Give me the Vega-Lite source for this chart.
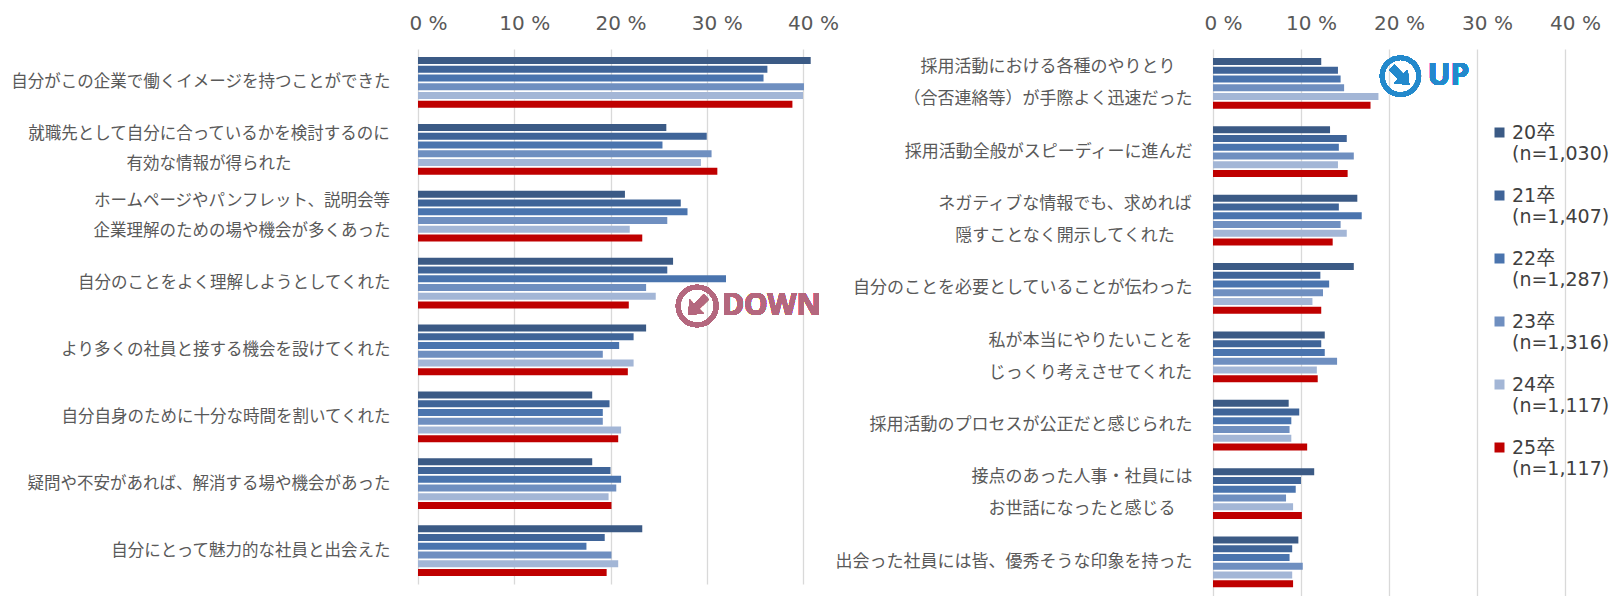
{
  "$schema": "https://vega.github.io/schema/vega-lite/v6.json",
  "padding": {"left": 10, "top": 13, "right": 0, "bottom": 0},
  "autosize": {"type": "pad"},
  "bounds": "flush",
  "config": {
    "view": {"stroke": null},
    "font": "Noto Sans CJK JP",
    "axis": {"domain": false, "ticks": false, "title": null, "labelColor": "#595959", "gridColor": "#d9d9d9", "gridWidth": 1.3}
  },
  "spacing": 410,
  "resolve": {"legend": {"color": "independent"}},
  "datasets": {
    "left": [
      {"q": "自分がこの企業で働くイメージを持つことができた", "s": "20卒 (n=1,030)", "v": 40.8},
      {"q": "自分がこの企業で働くイメージを持つことができた", "s": "21卒 (n=1,407)", "v": 36.3},
      {"q": "自分がこの企業で働くイメージを持つことができた", "s": "22卒 (n=1,287)", "v": 35.9},
      {"q": "自分がこの企業で働くイメージを持つことができた", "s": "23卒 (n=1,316)", "v": 40.1},
      {"q": "自分がこの企業で働くイメージを持つことができた", "s": "24卒 (n=1,117)", "v": 40.0},
      {"q": "自分がこの企業で働くイメージを持つことができた", "s": "25卒 (n=1,117)", "v": 38.9},
      {"q": "就職先として自分に合っているかを検討するのに\n有効な情報が得られた", "s": "20卒 (n=1,030)", "v": 25.8},
      {"q": "就職先として自分に合っているかを検討するのに\n有効な情報が得られた", "s": "21卒 (n=1,407)", "v": 30.0},
      {"q": "就職先として自分に合っているかを検討するのに\n有効な情報が得られた", "s": "22卒 (n=1,287)", "v": 25.4},
      {"q": "就職先として自分に合っているかを検討するのに\n有効な情報が得られた", "s": "23卒 (n=1,316)", "v": 30.5},
      {"q": "就職先として自分に合っているかを検討するのに\n有効な情報が得られた", "s": "24卒 (n=1,117)", "v": 29.4},
      {"q": "就職先として自分に合っているかを検討するのに\n有効な情報が得られた", "s": "25卒 (n=1,117)", "v": 31.1},
      {"q": "ホームページやパンフレット、説明会等\n企業理解のための場や機会が多くあった", "s": "20卒 (n=1,030)", "v": 21.5},
      {"q": "ホームページやパンフレット、説明会等\n企業理解のための場や機会が多くあった", "s": "21卒 (n=1,407)", "v": 27.3},
      {"q": "ホームページやパンフレット、説明会等\n企業理解のための場や機会が多くあった", "s": "22卒 (n=1,287)", "v": 28.0},
      {"q": "ホームページやパンフレット、説明会等\n企業理解のための場や機会が多くあった", "s": "23卒 (n=1,316)", "v": 25.9},
      {"q": "ホームページやパンフレット、説明会等\n企業理解のための場や機会が多くあった", "s": "24卒 (n=1,117)", "v": 22.0},
      {"q": "ホームページやパンフレット、説明会等\n企業理解のための場や機会が多くあった", "s": "25卒 (n=1,117)", "v": 23.3},
      {"q": "自分のことをよく理解しようとしてくれた", "s": "20卒 (n=1,030)", "v": 26.5},
      {"q": "自分のことをよく理解しようとしてくれた", "s": "21卒 (n=1,407)", "v": 25.9},
      {"q": "自分のことをよく理解しようとしてくれた", "s": "22卒 (n=1,287)", "v": 32.0},
      {"q": "自分のことをよく理解しようとしてくれた", "s": "23卒 (n=1,316)", "v": 23.7},
      {"q": "自分のことをよく理解しようとしてくれた", "s": "24卒 (n=1,117)", "v": 24.7},
      {"q": "自分のことをよく理解しようとしてくれた", "s": "25卒 (n=1,117)", "v": 21.9},
      {"q": "より多くの社員と接する機会を設けてくれた", "s": "20卒 (n=1,030)", "v": 23.7},
      {"q": "より多くの社員と接する機会を設けてくれた", "s": "21卒 (n=1,407)", "v": 22.4},
      {"q": "より多くの社員と接する機会を設けてくれた", "s": "22卒 (n=1,287)", "v": 20.9},
      {"q": "より多くの社員と接する機会を設けてくれた", "s": "23卒 (n=1,316)", "v": 19.2},
      {"q": "より多くの社員と接する機会を設けてくれた", "s": "24卒 (n=1,117)", "v": 22.4},
      {"q": "より多くの社員と接する機会を設けてくれた", "s": "25卒 (n=1,117)", "v": 21.8},
      {"q": "自分自身のために十分な時間を割いてくれた", "s": "20卒 (n=1,030)", "v": 18.1},
      {"q": "自分自身のために十分な時間を割いてくれた", "s": "21卒 (n=1,407)", "v": 19.9},
      {"q": "自分自身のために十分な時間を割いてくれた", "s": "22卒 (n=1,287)", "v": 19.2},
      {"q": "自分自身のために十分な時間を割いてくれた", "s": "23卒 (n=1,316)", "v": 19.2},
      {"q": "自分自身のために十分な時間を割いてくれた", "s": "24卒 (n=1,117)", "v": 21.1},
      {"q": "自分自身のために十分な時間を割いてくれた", "s": "25卒 (n=1,117)", "v": 20.8},
      {"q": "疑問や不安があれば、解消する場や機会があった", "s": "20卒 (n=1,030)", "v": 18.1},
      {"q": "疑問や不安があれば、解消する場や機会があった", "s": "21卒 (n=1,407)", "v": 20.0},
      {"q": "疑問や不安があれば、解消する場や機会があった", "s": "22卒 (n=1,287)", "v": 21.1},
      {"q": "疑問や不安があれば、解消する場や機会があった", "s": "23卒 (n=1,316)", "v": 20.6},
      {"q": "疑問や不安があれば、解消する場や機会があった", "s": "24卒 (n=1,117)", "v": 19.8},
      {"q": "疑問や不安があれば、解消する場や機会があった", "s": "25卒 (n=1,117)", "v": 20.1},
      {"q": "自分にとって魅力的な社員と出会えた", "s": "20卒 (n=1,030)", "v": 23.3},
      {"q": "自分にとって魅力的な社員と出会えた", "s": "21卒 (n=1,407)", "v": 19.4},
      {"q": "自分にとって魅力的な社員と出会えた", "s": "22卒 (n=1,287)", "v": 17.5},
      {"q": "自分にとって魅力的な社員と出会えた", "s": "23卒 (n=1,316)", "v": 20.1},
      {"q": "自分にとって魅力的な社員と出会えた", "s": "24卒 (n=1,117)", "v": 20.8},
      {"q": "自分にとって魅力的な社員と出会えた", "s": "25卒 (n=1,117)", "v": 19.6}
    ],
    "right": [
      {"q": "採用活動における各種のやりとり\n（合否連絡等）が手際よく迅速だった", "s": "20卒 (n=1,030)", "v": 12.3},
      {"q": "採用活動における各種のやりとり\n（合否連絡等）が手際よく迅速だった", "s": "21卒 (n=1,407)", "v": 14.2},
      {"q": "採用活動における各種のやりとり\n（合否連絡等）が手際よく迅速だった", "s": "22卒 (n=1,287)", "v": 14.5},
      {"q": "採用活動における各種のやりとり\n（合否連絡等）が手際よく迅速だった", "s": "23卒 (n=1,316)", "v": 14.9},
      {"q": "採用活動における各種のやりとり\n（合否連絡等）が手際よく迅速だった", "s": "24卒 (n=1,117)", "v": 18.8},
      {"q": "採用活動における各種のやりとり\n（合否連絡等）が手際よく迅速だった", "s": "25卒 (n=1,117)", "v": 17.9},
      {"q": "採用活動全般がスピーディーに進んだ", "s": "20卒 (n=1,030)", "v": 13.3},
      {"q": "採用活動全般がスピーディーに進んだ", "s": "21卒 (n=1,407)", "v": 15.2},
      {"q": "採用活動全般がスピーディーに進んだ", "s": "22卒 (n=1,287)", "v": 14.3},
      {"q": "採用活動全般がスピーディーに進んだ", "s": "23卒 (n=1,316)", "v": 16.0},
      {"q": "採用活動全般がスピーディーに進んだ", "s": "24卒 (n=1,117)", "v": 14.2},
      {"q": "採用活動全般がスピーディーに進んだ", "s": "25卒 (n=1,117)", "v": 15.3},
      {"q": "ネガティブな情報でも、求めれば\n隠すことなく開示してくれた", "s": "20卒 (n=1,030)", "v": 16.4},
      {"q": "ネガティブな情報でも、求めれば\n隠すことなく開示してくれた", "s": "21卒 (n=1,407)", "v": 14.3},
      {"q": "ネガティブな情報でも、求めれば\n隠すことなく開示してくれた", "s": "22卒 (n=1,287)", "v": 16.9},
      {"q": "ネガティブな情報でも、求めれば\n隠すことなく開示してくれた", "s": "23卒 (n=1,316)", "v": 14.5},
      {"q": "ネガティブな情報でも、求めれば\n隠すことなく開示してくれた", "s": "24卒 (n=1,117)", "v": 15.2},
      {"q": "ネガティブな情報でも、求めれば\n隠すことなく開示してくれた", "s": "25卒 (n=1,117)", "v": 13.6},
      {"q": "自分のことを必要としていることが伝わった", "s": "20卒 (n=1,030)", "v": 16.0},
      {"q": "自分のことを必要としていることが伝わった", "s": "21卒 (n=1,407)", "v": 12.2},
      {"q": "自分のことを必要としていることが伝わった", "s": "22卒 (n=1,287)", "v": 13.2},
      {"q": "自分のことを必要としていることが伝わった", "s": "23卒 (n=1,316)", "v": 12.5},
      {"q": "自分のことを必要としていることが伝わった", "s": "24卒 (n=1,117)", "v": 11.3},
      {"q": "自分のことを必要としていることが伝わった", "s": "25卒 (n=1,117)", "v": 12.3},
      {"q": "私が本当にやりたいことを\nじっくり考えさせてくれた", "s": "20卒 (n=1,030)", "v": 12.7},
      {"q": "私が本当にやりたいことを\nじっくり考えさせてくれた", "s": "21卒 (n=1,407)", "v": 12.3},
      {"q": "私が本当にやりたいことを\nじっくり考えさせてくれた", "s": "22卒 (n=1,287)", "v": 12.7},
      {"q": "私が本当にやりたいことを\nじっくり考えさせてくれた", "s": "23卒 (n=1,316)", "v": 14.1},
      {"q": "私が本当にやりたいことを\nじっくり考えさせてくれた", "s": "24卒 (n=1,117)", "v": 11.8},
      {"q": "私が本当にやりたいことを\nじっくり考えさせてくれた", "s": "25卒 (n=1,117)", "v": 11.9},
      {"q": "採用活動のプロセスが公正だと感じられた", "s": "20卒 (n=1,030)", "v": 8.6},
      {"q": "採用活動のプロセスが公正だと感じられた", "s": "21卒 (n=1,407)", "v": 9.8},
      {"q": "採用活動のプロセスが公正だと感じられた", "s": "22卒 (n=1,287)", "v": 8.9},
      {"q": "採用活動のプロセスが公正だと感じられた", "s": "23卒 (n=1,316)", "v": 8.7},
      {"q": "採用活動のプロセスが公正だと感じられた", "s": "24卒 (n=1,117)", "v": 8.9},
      {"q": "採用活動のプロセスが公正だと感じられた", "s": "25卒 (n=1,117)", "v": 10.7},
      {"q": "接点のあった人事・社員には\nお世話になったと感じる", "s": "20卒 (n=1,030)", "v": 11.5},
      {"q": "接点のあった人事・社員には\nお世話になったと感じる", "s": "21卒 (n=1,407)", "v": 10.0},
      {"q": "接点のあった人事・社員には\nお世話になったと感じる", "s": "22卒 (n=1,287)", "v": 9.4},
      {"q": "接点のあった人事・社員には\nお世話になったと感じる", "s": "23卒 (n=1,316)", "v": 8.3},
      {"q": "接点のあった人事・社員には\nお世話になったと感じる", "s": "24卒 (n=1,117)", "v": 9.1},
      {"q": "接点のあった人事・社員には\nお世話になったと感じる", "s": "25卒 (n=1,117)", "v": 10.1},
      {"q": "出会った社員には皆、優秀そうな印象を持った", "s": "20卒 (n=1,030)", "v": 9.7},
      {"q": "出会った社員には皆、優秀そうな印象を持った", "s": "21卒 (n=1,407)", "v": 9.0},
      {"q": "出会った社員には皆、優秀そうな印象を持った", "s": "22卒 (n=1,287)", "v": 8.7},
      {"q": "出会った社員には皆、優秀そうな印象を持った", "s": "23卒 (n=1,316)", "v": 10.2},
      {"q": "出会った社員には皆、優秀そうな印象を持った", "s": "24卒 (n=1,117)", "v": 9.0},
      {"q": "出会った社員には皆、優秀そうな印象を持った", "s": "25卒 (n=1,117)", "v": 9.1}
    ]
  },
  "hconcat": [
    {
      "width": 385,
      "height": 535,
      "data": {"name": "left"},
      "layer": [
        {
          "mark": {"type": "bar"},
          "encoding": {
            "y": {
              "field": "q", "type": "nominal", "sort": null,
              "scale": {"paddingInner": 0.24, "paddingOuter": 0.12},
              "axis": {
                "labelExpr": "split(datum.label, '\\n')", "labelFontSize": 16.5, "labelLineHeight": 30, "labelLimit": 600,
                "labelBaseline": {"condition": {"test": "indexof(datum.value, '\\n') >= 0", "value": "line-bottom"}, "value": "middle"},
                "labelAlign": {"condition": {"test": "indexof(datum.value, '\\n') >= 0", "value": "center"}, "value": "right"},
                "labelPadding": {"condition": [
                  {"test": "indexof(datum.value, '就職先') === 0", "value": 209.5},
                  {"test": "indexof(datum.value, 'ホームページ') === 0", "value": 176.5}
                ], "value": 28}
              }
            },
            "yOffset": {"field": "s", "type": "nominal", "sort": null, "scale": {"paddingInner": 0.2, "paddingOuter": 0}},
            "x": {
              "field": "v", "type": "quantitative",
              "scale": {"domain": [0, 40], "nice": false},
              "axis": {"orient": "top", "grid": true, "values": [0, 10, 20, 30, 40], "labelExpr": "datum.value === 0 ? '0 %' : datum.value + ' %'", "labelFont": "DejaVu Sans", "labelFontSize": 20, "labelPadding": 16, "labelOffset": 10, "labelFlush": false}
            },
            "color": {
              "field": "s", "type": "nominal",
              "scale": {
                "domain": ["20卒 (n=1,030)", "21卒 (n=1,407)", "22卒 (n=1,287)", "23卒 (n=1,316)", "24卒 (n=1,117)", "25卒 (n=1,117)"],
                "range": ["#3b5a85", "#3f6498", "#4a74ae", "#6f8fc0", "#a3b6d6", "#bf0000"]
              },
              "legend": null
            }
          }
        },
        {
          "mark": {"type": "point", "shape": "circle", "size": 1450, "strokeWidth": 4.5, "filled": false, "color": "#b4677e", "opacity": 1},
          "encoding": {
            "x": {"datum": 29.0, "type": "quantitative"},
            "y": {"datum": "自分のことをよく理解しようとしてくれた", "type": "nominal", "bandPosition": 0.95}
          }
        },
        {
          "mark": {"type": "point", "shape": "M-0.24,-0.85L0.24,-0.85L0.24,0.05L0.65,0.05L0,0.85L-0.65,0.05L-0.24,0.05Z", "angle": 45, "size": 900, "filled": true, "color": "#b4677e", "opacity": 1},
          "encoding": {
            "x": {"datum": 29.0, "type": "quantitative"},
            "y": {"datum": "自分のことをよく理解しようとしてくれた", "type": "nominal", "bandPosition": 0.95}
          }
        },
        {
          "mark": {"type": "text", "text": "DOWN", "font": "Noto Sans", "fontWeight": "bold", "fontSize": 30, "align": "left", "baseline": "middle", "color": "#b4677e"},
          "encoding": {
            "x": {"datum": 31.6, "type": "quantitative"},
            "y": {"datum": "自分のことをよく理解しようとしてくれた", "type": "nominal", "bandPosition": 0.95}
          }
        }
      ]
    },
    {
      "width": 352,
      "height": 547,
      "data": {"name": "right"},
      "layer": [
        {
          "mark": {"type": "bar"},
          "encoding": {
            "y": {
              "field": "q", "type": "nominal", "sort": null,
              "scale": {"paddingInner": 0.26, "paddingOuter": 0.13},
              "axis": {
                "labelExpr": "split(datum.label, '\\n')", "labelFontSize": 17, "labelLineHeight": 32, "labelLimit": 600,
                "labelBaseline": {"condition": {"test": "indexof(datum.value, '\\n') >= 0", "value": "line-bottom"}, "value": "middle"},
                "labelAlign": {"condition": {"test": "indexof(datum.value, '\\n') >= 0", "value": "center"}, "value": "right"},
                "labelPadding": {"condition": [
                  {"test": "indexof(datum.value, '採用活動における') === 0", "value": 165.5},
                  {"test": "indexof(datum.value, 'ネガティブ') === 0", "value": 148.5},
                  {"test": "indexof(datum.value, '私が本当に') === 0", "value": 123},
                  {"test": "indexof(datum.value, '接点の') === 0", "value": 131.5}
                ], "value": 21}
              }
            },
            "yOffset": {"field": "s", "type": "nominal", "sort": null, "scale": {"paddingInner": 0.2, "paddingOuter": 0}},
            "x": {
              "field": "v", "type": "quantitative",
              "scale": {"domain": [0, 40], "nice": false},
              "axis": {"orient": "top", "grid": true, "values": [0, 10, 20, 30, 40], "labelExpr": "datum.value === 0 ? '0 %' : datum.value + ' %'", "labelFont": "DejaVu Sans", "labelFontSize": 20, "labelPadding": 16, "labelOffset": 10, "labelFlush": false}
            },
            "color": {
              "field": "s", "type": "nominal",
              "scale": {
                "domain": ["20卒 (n=1,030)", "21卒 (n=1,407)", "22卒 (n=1,287)", "23卒 (n=1,316)", "24卒 (n=1,117)", "25卒 (n=1,117)"],
                "range": ["#3b5a85", "#3f6498", "#4a74ae", "#6f8fc0", "#a3b6d6", "#bf0000"]
              },
              "legend": {
                "orient": "none", "legendX": 277, "legendY": 74, "title": null,
                "labelExpr": "split(datum.label, ' ')", "labelFont": "DejaVu Sans, Noto Sans CJK JP", "labelFontSize": 19, "labelLineHeight": 24,
                "labelColor": "#404040", "labelBaseline": "middle", "labelOffset": 3, "labelLimit": 300,
                "symbolType": "square", "symbolSize": 100, "symbolStrokeWidth": 0, "rowPadding": 22
              }
            }
          }
        },
        {
          "mark": {"type": "point", "shape": "circle", "size": 1350, "strokeWidth": 4.5, "filled": false, "color": "#2389cc", "opacity": 1},
          "encoding": {
            "x": {"datum": 21.3, "type": "quantitative"},
            "y": {"datum": "採用活動における各種のやりとり\n（合否連絡等）が手際よく迅速だった", "type": "nominal", "bandPosition": 0.36}
          }
        },
        {
          "mark": {"type": "point", "shape": "M-0.24,-0.85L0.24,-0.85L0.24,0.05L0.65,0.05L0,0.85L-0.65,0.05L-0.24,0.05Z", "angle": -45, "size": 850, "filled": true, "color": "#2389cc", "opacity": 1},
          "encoding": {
            "x": {"datum": 21.3, "type": "quantitative"},
            "y": {"datum": "採用活動における各種のやりとり\n（合否連絡等）が手際よく迅速だった", "type": "nominal", "bandPosition": 0.36}
          }
        },
        {
          "mark": {"type": "text", "text": "UP", "font": "Noto Sans", "fontWeight": "bold", "fontSize": 30, "align": "left", "baseline": "middle", "color": "#2389cc"},
          "encoding": {
            "x": {"datum": 24.4, "type": "quantitative"},
            "y": {"datum": "採用活動における各種のやりとり\n（合否連絡等）が手際よく迅速だった", "type": "nominal", "bandPosition": 0.36}
          }
        }
      ]
    }
  ]
}
